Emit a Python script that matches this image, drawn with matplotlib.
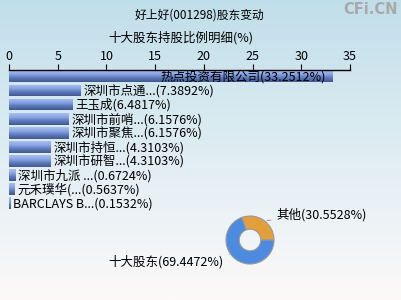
import numpy as np
import matplotlib.pyplot as plt
from matplotlib.colors import LinearSegmentedColormap

plt.rcParams['font.family'] = ['Noto Sans CJK SC', 'DejaVu Sans']

title = "好上好(001298)股东变动"
subtitle = "十大股东持股比例明细(%)"
holders = ["热点投资有限公司", "深圳市点通...", "王玉成", "深圳市前哨...", "深圳市聚焦...",
           "深圳市持恒...", "深圳市研智...", "深圳市九派 ...", "元禾璞华(...", "BARCLAYS B..."]
pcts = [33.2512, 7.3892, 6.4817, 6.1576, 6.1576, 4.3103, 4.3103, 0.6724, 0.5637, 0.1532]
pie_labels = ["其他", "十大股东"]
pie_vals = [30.5528, 69.4472]

fig = plt.figure(figsize=(4.02, 3.0), dpi=100)

# background gradient
bg = fig.add_axes([0, 0, 1, 1], zorder=-10)
bg_cmap = LinearSegmentedColormap.from_list("bg", ["#c0dee9", "#dfedf3", "#fdf9f9"])
bg.imshow(np.linspace(0, 1, 256).reshape(-1, 1), aspect="auto", cmap=bg_cmap,
          extent=[0, 1, 0, 1])
bg.axis("off")

fig.text(0.497, 0.95, title, ha="center", va="center", fontsize=8.5)
fig.text(0.45, 0.873, subtitle, ha="center", va="center", fontsize=9)
fig.text(0.99, 0.97, "CFi.CN", ha="right", va="center", fontsize=10.5,
         color="#a9a9a9", fontweight="bold", family="DejaVu Sans")

# bar chart
ax = fig.add_axes([9 / 402, 1 - 211 / 300, 341 / 402, 141 / 300])
ax.patch.set_alpha(0)
bar_cmap = LinearSegmentedColormap.from_list("bar", ["#a8c0f0", "#8aa6e6", "#5c78b8", "#3f5890"])
h = 0.84
for i, (name, v) in enumerate(zip(holders, pcts)):
    b = ax.barh(i, v, height=h, color="none", edgecolor="none")[0]
    im = ax.imshow(np.linspace(0, 1, 64).reshape(-1, 1), aspect="auto", cmap=bar_cmap,
                   extent=[0, v, i + h / 2, i - h / 2], zorder=2)
    im.set_clip_path(b)
    lab = f"{name}({v:.4f}%)"
    if i == 0:
        ax.text(v - 0.7, i + 0.05, lab, ha="right", va="center", fontsize=9, zorder=3)
    else:
        ax.text(v + 0.3, i + 0.05, lab, ha="left", va="center", fontsize=9, zorder=3)
ax.set_xlim(0, 35)
ax.set_ylim(9.55, -0.45)
ax.xaxis.tick_top()
ax.set_xticks(range(0, 36, 5))
ax.tick_params(axis="x", direction="out", length=4, labelsize=9, pad=1, color="black")
ax.set_yticks([])
for s in ["left", "right", "bottom"]:
    ax.spines[s].set_visible(False)
ax.spines["top"].set_linewidth(1)

# donut
pax = fig.add_axes([(250 - 30) / 402, (300 - 240 - 30) / 300, 60 / 402, 60 / 300])
pax.set_aspect("equal")
wedges, _ = pax.pie(pie_vals, colors=["#e3a03a", "#4d8be0"], startangle=0,
                    radius=1.0, wedgeprops=dict(width=0.55, edgecolor="#9a9a9a", linewidth=0.8))
pax.set_xlim(-1.25, 1.25)
pax.set_ylim(-1.25, 1.25)
pax.axis("off")
pax.annotate(f"{pie_labels[0]}({pie_vals[0]:.4f}%)", xy=(0.6, 0.8), xytext=(1.1, 1.05),
             ha="left", va="center", fontsize=9, annotation_clip=False,
             arrowprops=dict(arrowstyle="-", color="#808080", lw=0.6))
pax.annotate(f"{pie_labels[1]}({pie_vals[1]:.4f}%)", xy=(-0.75, -0.6), xytext=(-1.1, -0.9),
             ha="right", va="center", fontsize=9, annotation_clip=False,
             arrowprops=dict(arrowstyle="-", color="#808080", lw=0.6))

fig.savefig("out.png", dpi=100)
